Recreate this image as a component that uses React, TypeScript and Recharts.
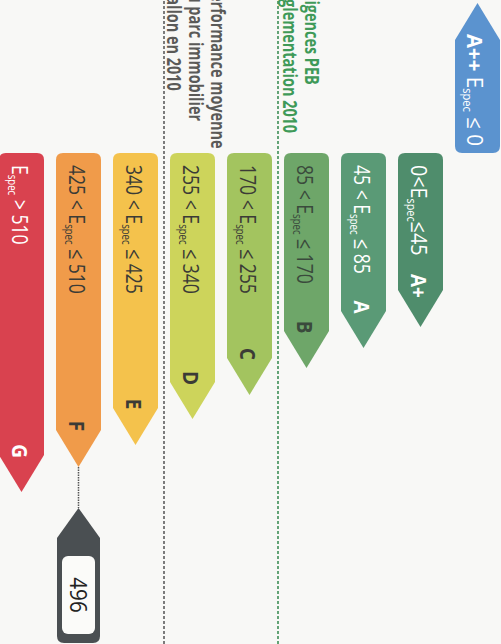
import React from "react";
import { Bar, BarChart, ReferenceDot, ReferenceLine, XAxis, YAxis } from "recharts";

const grades = ["G", "F", "E", "D", "C", "B", "A", "A+", "A++"];
const lowerBounds: (number | null)[] = [510, 425, 340, 255, 170, 85, 45, 0, null];
const upperBounds: (number | null)[] = [null, 510, 425, 340, 255, 170, 85, 45, 0];
// length of each arrow, in px-like chart units (A++ points up)
const arrowLengths = [339, 314, 292, 266, 242, 215, 195, 174, -150];
const gradeColors = ["#d9424f", "#f09b4a", "#f4c24c", "#cdd45b", "#a3c45f", "#6ea669", "#5a9a76", "#4f8d6c", "#5b93cf"];
const textColors = ["#ffffff", "#3b3b36", "#3b3b36", "#3b3b36", "#3b3b36", "#3a4a3c", "#ffffff", "#ffffff", "#ffffff"];

const markerValue = 496;
const markerGap = 41;

const avgLines = ["Performance moyenne", "du parc immobilier", "wallon en 2010"];
const pebLines = ["Exigences PEB", "réglementation 2010"];

const FONT = "'Open Sans', 'DejaVu Sans', sans-serif";
// the print uses a condensed face, so squeeze along the reading direction
const SQUEEZE = 0.8;

const data = grades.map((grade, i) => ({
  grade,
  length: arrowLengths[i],
  lo: lowerBounds[i],
  hi: upperBounds[i],
  color: gradeColors[i],
  text: textColors[i],
}));

const markerIndex = grades.findIndex(
  (_, i) => (lowerBounds[i] === null || markerValue > (lowerBounds[i] as number)) && (upperBounds[i] === null || markerValue <= (upperBounds[i] as number))
);
const markerGrade = grades[markerIndex];
const markerY = arrowLengths[markerIndex] + markerGap;

function RangeText({ lo, hi, color, bold }: { lo: number | null; hi: number | null; color: string; bold?: string }) {
  const sp = lo === 0 ? "" : " ";
  const before = lo !== null && hi !== null ? `${lo}${sp}<${sp}E` : "E";
  const after = hi === null ? ` > ${lo}` : `${sp}≤${sp}${hi}`;
  return (
    <text x={0} y={8} fill={color} fontFamily={FONT} fontSize={22} textAnchor="start">
      {bold && <tspan fontWeight="bold">{bold} </tspan>}
      <tspan>{before}</tspan>
      <tspan fontSize={12} dy={4}>spec</tspan>
      <tspan dy={-4}>{after}</tspan>
    </text>
  );
}

function Arrow(props: any) {
  const { x, y, width, height, index } = props;
  const d = data[index];
  const top = Math.min(y, y + height);
  const bottom = Math.max(y, y + height);
  const cx = x + width / 2;
  const r = 7;
  const tip = 37;
  const squeeze = d.lo === 0 ? 0.9 : SQUEEZE;
  if (d.length < 0) {
    const path = `M${cx},${top} L${x + width},${top + tip} L${x + width},${bottom - r} Q${x + width},${bottom} ${x + width - r},${bottom} L${x + r},${bottom} Q${x},${bottom} ${x},${bottom - r} L${x},${top + tip} Z`;
    return (
      <g>
        <path d={path} fill={d.color} />
        <g transform={`translate(${cx - 2},${top + 31}) rotate(90) scale(0.93,1)`}>
          <RangeText lo={d.lo} hi={d.hi} color={d.text} bold={d.grade} />
        </g>
      </g>
    );
  }
  const path = `M${x},${top + r} Q${x},${top} ${x + r},${top} L${x + width - r},${top} Q${x + width},${top} ${x + width},${top + r} L${x + width},${bottom - tip} L${cx},${bottom} L${x},${bottom - tip} Z`;
  return (
    <g>
      <path d={path} fill={d.color} />
      <g transform={`translate(${cx - 1},${top + 12}) rotate(90) scale(${squeeze},1)`}>
        <RangeText lo={d.lo} hi={d.hi} color={d.text} />
      </g>
      <g transform={`translate(${cx - 1},${bottom - 41}) rotate(90) scale(0.9,1)`}>
        <text x={0} y={8} fill={d.text} fontFamily={FONT} fontSize={21} fontWeight="bold" textAnchor="middle">
          {d.grade}
        </text>
      </g>
    </g>
  );
}

function Marker(props: any) {
  const { cx, cy } = props;
  const w = 43;
  const x = cx - w / 2;
  const bottom = cy + 135;
  const r = 7;
  const path = `M${cx},${cy} L${x + w},${cy + 30} L${x + w},${bottom - r} Q${x + w},${bottom} ${x + w - r},${bottom} L${x + r},${bottom} Q${x},${bottom} ${x},${bottom - r} L${x},${cy + 30} Z`;
  return (
    <g>
      <path d={path} fill="#4a4f52" />
      <rect x={x + 5} y={cy + 48} width={w - 10} height={78} rx={6} fill="#fbfbf9" />
      <g transform={`translate(${cx},${cy + 87}) rotate(90) scale(0.9,1)`}>
        <text x={0} y={8} fill="#222" fontFamily={FONT} fontSize={23} textAnchor="middle">
          {markerValue}
        </text>
      </g>
    </g>
  );
}

// header text runs off the top edge, as in the printed label
const headerLabel = (lines: string[], color: string, dx: number) => (props: any) => {
  const x0 = props.viewBox.x;
  return (
    <g>
      {lines.map((line, i) => (
        <g key={line} transform={`translate(${x0 + dx - i * 22},-16) rotate(90) scale(0.76,1)`}>
          <text x={0} y={5} fill={color} fontFamily={FONT} fontSize={19} fontWeight="bold">
            {line}
          </text>
        </g>
      ))}
    </g>
  );
};

export default function App() {
  return (
    <div style={{ position: "absolute", left: 0, top: 0, width: 501, height: 644, overflow: "hidden", background: "#f8f8f6" }}>
      <div style={{ position: "absolute", left: -7.5, top: 0 }}>
        <BarChart width={513} height={644} data={data} margin={{ top: 0, right: 0, bottom: 0, left: 0 }}>
          <XAxis dataKey="grade" hide />
          <YAxis type="number" hide reversed domain={[-153, 491]} allowDataOverflow />
          <ReferenceLine x="E" position="end" stroke="#5d5d5d" strokeWidth={1.6} strokeDasharray="3 2" label={headerLabel(avgLines, "#5a5a58", 52)} />
          <ReferenceLine x="C" position="end" stroke="#3f8f58" strokeWidth={1.6} strokeDasharray="3 2" label={headerLabel(pebLines, "#3f9a58", 32)} />
          <Bar dataKey="length" barSize={45} shape={Arrow} isAnimationActive={false} />
          <ReferenceLine
            segment={[
              { x: markerGrade, y: arrowLengths[markerIndex] },
              { x: markerGrade, y: markerY },
            ]}
            stroke="#555"
            strokeWidth={1.5}
            strokeDasharray="1.5 1"
          />
          <ReferenceDot x={markerGrade} y={markerY} r={0} shape={Marker} />
        </BarChart>
      </div>
    </div>
  );
}
